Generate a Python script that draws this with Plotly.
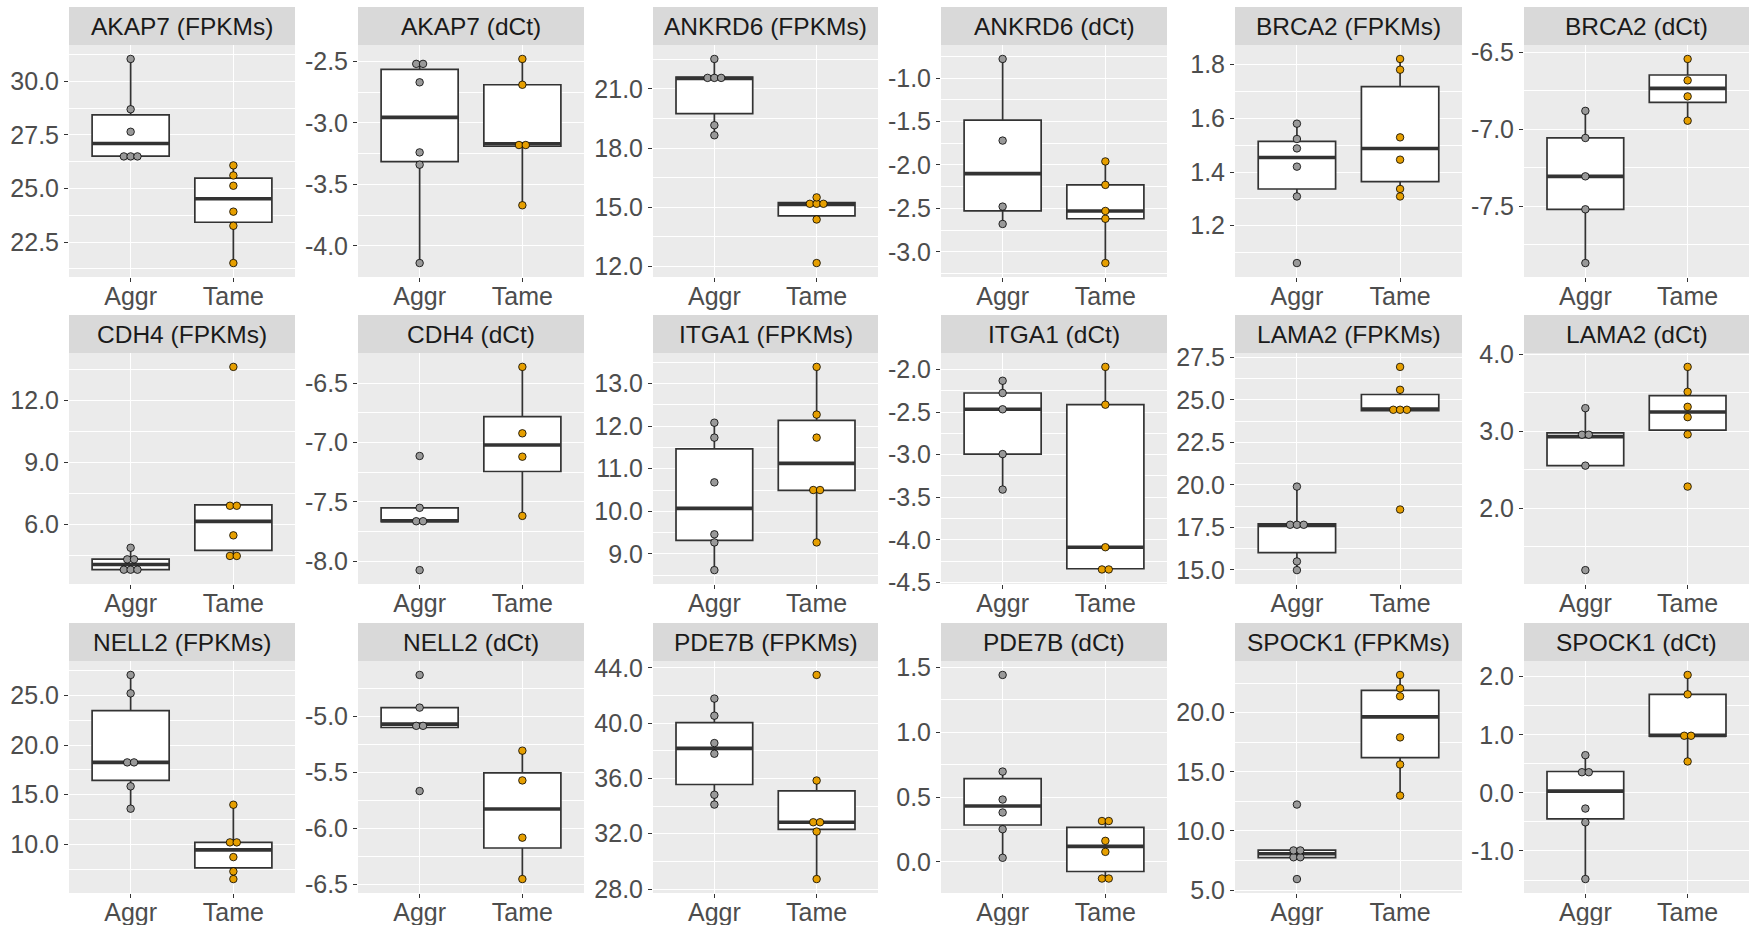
import numpy as np
import plotly.graph_objects as go

# ---------------- data ----------------
genes = ["AKAP7", "ANKRD6", "BRCA2", "CDH4", "ITGA1", "LAMA2", "NELL2", "PDE7B", "SPOCK1"]
measures = ["FPKMs", "dCt"]
panel_titles = [f"{g} ({m})" for g in genes for m in measures]
groups = ["Aggr", "Tame"]

aggr_akap7_fpkm = [31.05, 28.7, 27.65, 26.55, 26.5, 26.45]
tame_akap7_fpkm = [26.08, 25.61, 25.13, 23.92, 23.26, 21.52]
aggr_akap7_dct = [-2.51, -2.53, -2.67, -3.24, -3.34, -4.14]
tame_akap7_dct = [-2.48, -2.69, -3.17, -3.19, -3.67]
aggr_ankrd6_fpkm = [22.52, 21.62, 21.55, 21.5, 19.16, 18.65]
tame_ankrd6_fpkm = [15.5, 15.25, 15.18, 15.1, 14.38, 12.17]
aggr_ankrd6_dct = [-0.78, -1.72, -2.48, -2.68]
tame_ankrd6_dct = [-1.96, -2.23, -2.53, -2.62, -3.13]
aggr_brca2_fpkm = [1.58, 1.523, 1.488, 1.42, 1.309, 1.061]
tame_brca2_fpkm = [1.821, 1.781, 1.529, 1.446, 1.337, 1.309]
aggr_brca2_dct = [-6.88, -7.056, -7.305, -7.519, -7.868]
tame_brca2_dct = [-6.543, -6.682, -6.786, -6.944]
aggr_cdh4_fpkm = [4.87, 4.33, 4.29, 3.83, 3.81, 3.79]
tame_cdh4_fpkm = [13.61, 6.98, 6.82, 5.47, 4.5, 4.45]
aggr_cdh4_dct = [-7.114, -7.551, -7.66, -7.668, -8.076]
tame_cdh4_dct = [-6.363, -6.923, -7.12, -7.619]
aggr_itga1_fpkm = [12.08, 11.73, 10.68, 9.46, 9.27, 8.62]
tame_itga1_fpkm = [13.39, 12.27, 11.73, 10.52, 10.48, 9.27]
aggr_itga1_dct = [-2.132, -2.276, -2.467, -2.993, -3.41]
tame_itga1_dct = [-1.969, -2.413, -4.087, -4.34, -4.356]
aggr_lama2_fpkm = [19.9, 17.72, 17.65, 17.58, 15.49, 14.98]
tame_lama2_fpkm = [26.95, 25.6, 24.5, 24.42, 24.35, 18.55]
aggr_lama2_dct = [3.30, 2.98, 2.93, 2.553, 1.196]
tame_lama2_dct = [3.836, 3.512, 3.317, 3.183, 2.959, 2.281]
aggr_nell2_fpkm = [27.05, 25.2, 18.27, 18.23, 15.84, 13.59]
tame_nell2_fpkm = [13.99, 10.22, 10.18, 8.72, 7.28, 6.51]
aggr_nell2_dct = [-4.63, -4.922, -5.07, -5.10, -5.668]
tame_nell2_dct = [-5.307, -5.573, -6.085, -6.455]
aggr_pde7b_fpkm = [41.78, 40.54, 38.56, 37.79, 34.82, 34.11]
tame_pde7b_fpkm = [43.49, 35.85, 32.86, 32.8, 32.16, 28.72]
aggr_pde7b_dct = [1.443, 0.697, 0.481, 0.381, 0.252, 0.031]
tame_pde7b_dct = [0.33, 0.30, 0.162, 0.077, -0.125, -0.133]
aggr_spock1_fpkm = [12.23, 8.4, 8.3, 7.85, 7.7, 5.93]
tame_spock1_fpkm = [23.19, 22.06, 21.38, 17.91, 15.62, 12.99]
aggr_spock1_dct = [0.649, 0.38, 0.33, -0.27, -0.506, -1.483]
tame_spock1_dct = [2.029, 1.695, 0.99, 0.976, 0.54]

aggr_values = [aggr_akap7_fpkm, aggr_akap7_dct, aggr_ankrd6_fpkm, aggr_ankrd6_dct,
               aggr_brca2_fpkm, aggr_brca2_dct, aggr_cdh4_fpkm, aggr_cdh4_dct,
               aggr_itga1_fpkm, aggr_itga1_dct, aggr_lama2_fpkm, aggr_lama2_dct,
               aggr_nell2_fpkm, aggr_nell2_dct, aggr_pde7b_fpkm, aggr_pde7b_dct,
               aggr_spock1_fpkm, aggr_spock1_dct]
tame_values = [tame_akap7_fpkm, tame_akap7_dct, tame_ankrd6_fpkm, tame_ankrd6_dct,
               tame_brca2_fpkm, tame_brca2_dct, tame_cdh4_fpkm, tame_cdh4_dct,
               tame_itga1_fpkm, tame_itga1_dct, tame_lama2_fpkm, tame_lama2_dct,
               tame_nell2_fpkm, tame_nell2_dct, tame_pde7b_fpkm, tame_pde7b_dct,
               tame_spock1_fpkm, tame_spock1_dct]

# y-axis tick spacing of each panel
tick_steps = [2.5, 0.5, 3, 0.5, 0.2, 0.5,
              3, 0.5, 1, 0.5, 2.5, 1,
              5, 0.5, 4, 0.5, 5, 1]

# ---------------- style / layout ----------------
W, H = 1750, 925
col_px = [(69, 295), (358, 584), (653, 878), (941, 1167), (1235, 1462), (1524, 1749)]
row_px = [(7, 45, 277), (315, 353, 584), (623, 661, 893)]  # strip top, panel top, panel bottom
group_colors = ["#999999", "#E69F00"]
BOX_LINE = "#333333"
FONT = "Liberation Sans, Arial, Helvetica, sans-serif"
TICK_FONT = dict(family=FONT, size=25, color="#4D4D4D")
STRIP_FONT = dict(family=FONT, size=24.5, color="#1A1A1A")
DOT_PX = 6.8
BOX_W = 0.75
X_RANGE = [0.4, 2.6]


def box_stats(vals):
    v = np.array(vals, float)
    q1, med, q3 = np.percentile(v, [25, 50, 75])  # R type 7
    iqr = q3 - q1
    lf = v[v >= q1 - 1.5 * iqr].min()
    uf = v[v <= q3 + 1.5 * iqr].max()
    return q1, med, q3, min(lf, q1), max(uf, q3)


def dot_positions(values, bw, center, step):
    v = sorted(values)
    xs, ys = [], []
    i = 0
    while i < len(v):
        j = i
        while j + 1 < len(v) and v[j + 1] - v[i] <= bw:
            j += 1
        grp = v[i:j + 1]
        n = len(grp)
        ymid = (grp[0] + grp[-1]) / 2
        for k in range(n):
            xs.append(center + (k - (n - 1) / 2) * step)
            ys.append(ymid)
        i = j + 1
    return xs, ys


fig = go.Figure()
shapes, annotations = [], []
layout_axes = {}

for i, title in enumerate(panel_titles):
    r, c = divmod(i, 6)
    x0, x1 = col_px[c]
    st, pt, pb = row_px[r]
    ax = "" if i == 0 else str(i + 1)
    xa, ya = "x" + ax, "y" + ax

    data = [aggr_values[i], tame_values[i]]
    allv = np.concatenate([np.array(d, float) for d in data])
    lo, hi = allv.min(), allv.max()
    bw = (hi - lo) / 30.0
    lo2, hi2 = lo - bw / 2, hi + bw / 2
    pad = (hi2 - lo2) * 0.05
    yr = [lo2 - pad, hi2 + pad]

    step_x = DOT_PX / ((x1 - x0) / (X_RANGE[1] - X_RANGE[0]))

    for g, vals in enumerate(data):
        pos = g + 1
        q1, med, q3, lf, uf = box_stats(vals)
        fig.add_trace(go.Box(
            x=[pos], q1=[q1], median=[med], q3=[q3], lowerfence=[lf], upperfence=[uf],
            xaxis=xa, yaxis=ya, width=BOX_W, boxpoints=False,
            fillcolor="white", line=dict(color=BOX_LINE, width=1.7),
            whiskerwidth=0, showlegend=False, hoverinfo="skip", name=groups[g]))
    for g, vals in enumerate(data):
        pos = g + 1
        med = float(np.percentile(vals, 50))
        fig.add_trace(go.Scatter(
            x=[pos - BOX_W / 2, pos + BOX_W / 2], y=[med, med], xaxis=xa, yaxis=ya,
            mode="lines", line=dict(color=BOX_LINE, width=3.6),
            showlegend=False, hoverinfo="skip"))
    for g, (vals, col) in enumerate(zip(data, group_colors)):
        pos = g + 1
        xs, ys = dot_positions(vals, bw, pos, step_x)
        fig.add_trace(go.Scatter(
            x=xs, y=ys, xaxis=xa, yaxis=ya, mode="markers",
            marker=dict(size=7.5, color=col, line=dict(color="black", width=0.8)),
            showlegend=False, hoverinfo="skip"))

    step = tick_steps[i]
    k0 = int(np.ceil(yr[0] / step - 1e-9))
    k1 = int(np.floor(yr[1] / step + 1e-9))
    tickvals = [k * step for k in range(k0, k1 + 1)]
    ticktext = [f"{v:.1f}".replace("-0.0", "0.0") for v in tickvals]
    m0 = int(np.ceil(yr[0] / (step / 2) - 1e-9))
    m1 = int(np.floor(yr[1] / (step / 2) + 1e-9))
    minorvals = [k * step / 2 for k in range(m0, m1 + 1) if k % 2 != 0]

    layout_axes["xaxis" + ax] = dict(
        domain=[x0 / W, x1 / W], anchor=ya, range=X_RANGE, automargin=False,
        tickmode="array", tickvals=[1, 2], ticktext=groups,
        showgrid=True, gridcolor="white", gridwidth=1.3, zeroline=False,
        showline=False, ticks="outside", ticklen=4, tickwidth=1.1,
        tickcolor=BOX_LINE, tickfont=TICK_FONT, fixedrange=True,
        ticklabelstandoff=-7)
    layout_axes["yaxis" + ax] = dict(
        domain=[1 - pb / H, 1 - pt / H], anchor=xa, range=yr, automargin=False,
        tickmode="array", tickvals=tickvals, ticktext=ticktext,
        showgrid=True, gridcolor="white", gridwidth=1.3, zeroline=False,
        showline=False, ticks="outside", ticklen=4, tickwidth=1.1,
        tickcolor=BOX_LINE, tickfont=TICK_FONT, fixedrange=True,
        minor=dict(tickmode="array", tickvals=minorvals, showgrid=True,
                   gridcolor="white", gridwidth=0.6, ticklen=0))

    shapes.append(dict(type="rect", xref="paper", yref="paper",
                       x0=x0 / W, x1=x1 / W, y0=1 - pt / H, y1=1 - st / H,
                       fillcolor="#D9D9D9", line=dict(width=0), layer="below"))
    annotations.append(dict(text=title, xref="paper", yref="paper",
                            x=(x0 + x1) / 2 / W, y=1 - (st + pt) / 2 / H,
                            xanchor="center", yanchor="middle", showarrow=False,
                            font=STRIP_FONT))

# size comes from the page div (set below), so the figure fills the window
fig.update_layout(
    autosize=True,
    margin=dict(l=0, r=0, t=0, b=0, pad=0, autoexpand=False),
    paper_bgcolor="white", plot_bgcolor="#EBEBEB",
    showlegend=False, shapes=shapes, annotations=annotations,
    font=dict(family=FONT),
    **layout_axes)

# pin the 1750x925 plot div to the window's top-left corner, out of the
# body's default 8px margin, so nothing scrolls or is cropped
fig.write_html("out.html", config={"displayModeBar": False},
               default_width=f"{W}px; position:absolute; top:0px; left:0px",
               default_height=f"{H}px")
